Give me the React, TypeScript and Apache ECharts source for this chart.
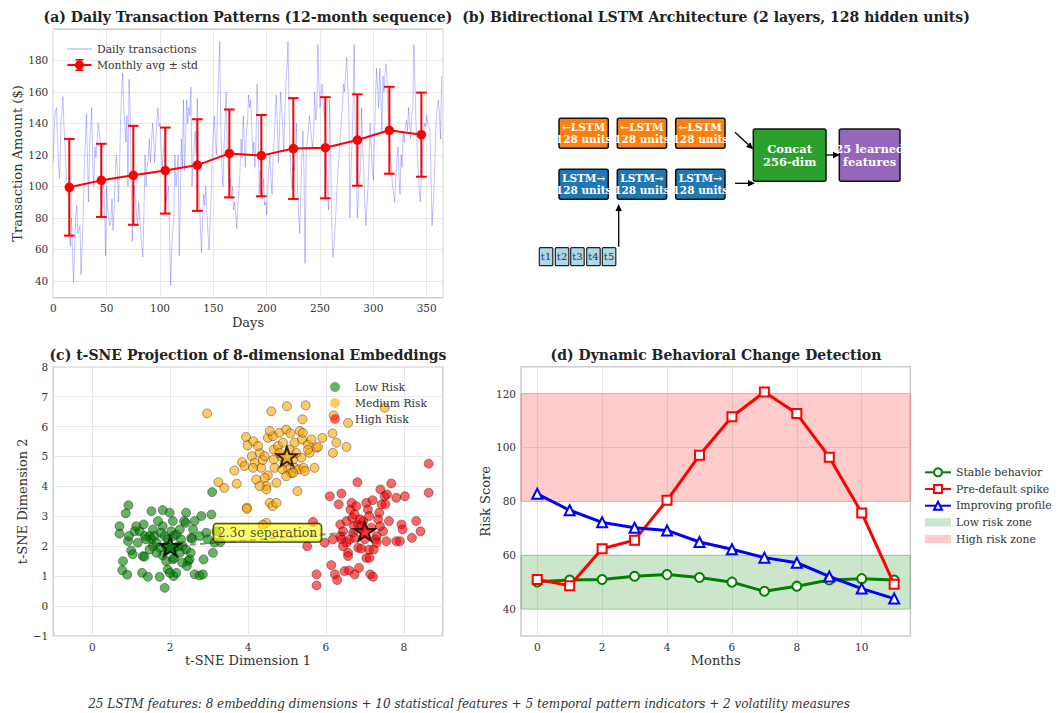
import React, { useEffect, useRef } from "react";
import * as echarts from "echarts";

const FONT = "DejaVu Serif";

// (a) daily transactions (days 0..364)
const dailyValues = [
  116, 140, 148, 150, 130, 112, 105, 140, 145, 157,
  138, 125, 110, 100, 92, 75, 62, 80, 58, 39,
  62, 80, 88, 70, 72, 75, 44, 62, 80, 110,
  128, 146, 118, 90, 125, 138, 150, 112, 100, 125,
  118, 127, 140, 135, 128, 80, 95, 105, 88, 56,
  100, 86, 80, 75, 78, 92, 72, 85, 105, 120,
  112, 90, 108, 140, 160, 172, 150, 140, 128, 145,
  100, 168, 150, 110, 65, 88, 100, 92, 82, 75,
  90, 80, 70, 62, 55, 85, 120, 100, 112, 118,
  130, 115, 126, 140, 132, 115, 128, 140, 150, 138,
  140, 128, 110, 120, 130, 137, 90, 95, 100, 70,
  37, 60, 72, 80, 120, 100, 108, 120, 56, 90,
  130, 112, 155, 110, 128, 155, 140, 150, 145, 163,
  100, 118, 125, 135, 120, 156, 120, 90, 72, 58,
  80, 95, 88, 100, 82, 70, 60, 78, 95, 120,
  135, 145, 128, 120, 150, 172, 192, 140, 112, 100,
  125, 140, 160, 128, 110, 98, 105, 92, 100, 85,
  90, 82, 73, 88, 95, 110, 130, 118, 145, 128,
  112, 135, 140, 158, 150, 155, 140, 120, 128, 112,
  130, 165, 140, 95, 110, 100, 92, 105, 88, 90,
  82, 98, 110, 120, 105, 95, 118, 130, 145, 158,
  140, 115, 135, 160, 150, 138, 122, 145, 165, 175,
  192, 150, 120, 105, 98, 115, 110, 125, 140, 96,
  82, 70, 95, 118, 135, 110, 51, 120, 128, 135,
  145, 138, 130, 125, 133, 160, 142, 150, 190, 165,
  150, 158, 165, 152, 145, 140, 115, 98, 85, 155,
  118, 75, 55, 62, 73, 85, 100, 112, 120, 130,
  142, 150, 165, 160, 172, 182, 165, 150, 80, 110,
  128, 150, 190, 140, 115, 80, 95, 105, 110, 150,
  125, 110, 90, 75, 88, 100, 118, 140, 125, 112,
  104, 130, 155, 175, 162, 150, 175, 158, 135, 170,
  160, 172, 178, 165, 140, 128, 118, 110, 100, 95,
  90, 105, 115, 125, 108, 95, 120, 112, 135, 128,
  138, 142, 135, 150, 140, 130, 145, 150, 190, 165,
  140, 125, 110, 98, 90, 105, 118, 130, 140, 138,
  145, 140, 138, 135, 110, 75, 88, 100, 125, 145,
  150, 155, 145, 130, 170,
];
const monthDays = [15, 45, 75, 105, 135, 165, 195, 225, 255, 285, 315, 345];
const monthMeans = [99.4, 103.8, 107.0, 110.0, 113.5, 120.9, 119.5, 124.0, 124.5, 129.4, 135.6, 132.8];
const monthStds = [30.7, 23.2, 31.4, 27.3, 29.1, 27.9, 25.8, 32.0, 32.1, 29.0, 27.6, 26.7];
const aYTicks = [40, 60, 80, 100, 120, 140, 160, 180];

// (c) t-SNE points
const lowRiskPts = [
  [0.70, 2.67], [0.70, 2.42], [0.93, 3.37], [0.86, 3.10], [0.92, 2.17], [0.94, 2.34], [1.00, 1.86], [1.04, 1.73],
  [0.79, 1.50], [0.77, 1.20], [0.90, 1.05], [1.09, 2.50], [1.22, 2.50], [1.32, 2.73], [1.35, 2.34], [1.30, 1.67],
  [1.34, 1.65], [1.28, 1.11], [1.43, 0.98], [1.47, 2.34], [1.52, 3.17], [1.56, 2.56], [1.52, 2.23], [1.56, 2.00],
  [1.60, 2.34], [1.73, 0.98], [1.81, 3.21], [1.81, 2.67], [1.77, 2.45], [1.86, 2.34], [1.73, 1.95], [1.81, 1.69],
  [1.90, 1.50], [1.86, 0.61], [1.94, 1.22], [2.03, 2.50], [2.07, 2.84], [2.09, 2.34], [2.11, 1.95], [2.07, 1.56],
  [2.09, 1.00], [2.16, 2.39], [2.25, 2.56], [2.36, 2.84], [2.40, 2.78], [2.28, 2.23], [2.32, 2.00], [2.41, 1.89],
  [2.46, 1.50], [2.50, 1.56], [2.43, 1.34], [2.53, 1.78], [2.54, 2.28], [2.57, 2.25], [2.63, 2.84], [2.76, 2.34],
  [2.80, 3.01], [2.86, 1.56], [2.63, 1.06], [2.76, 1.02], [2.84, 1.06], [3.06, 3.06], [3.10, 1.78], [3.14, 2.12],
  [3.19, 2.50], [3.29, 2.14], [3.08, 3.81], [2.20, 2.00], [1.94, 1.89], [1.65, 1.78], [2.25, 1.78], [2.31, 1.45],
  [2.16, 1.11], [1.99, 1.11], [1.94, 2.23], [1.69, 2.84], [1.99, 3.12], [2.41, 3.12], [2.59, 2.56], [2.93, 2.45],
  [2.97, 2.23], [1.13, 2.67], [1.38, 2.23], [1.17, 2.12], [1.65, 2.12], [1.47, 1.89], [1.90, 2.00], [2.11, 1.61],
];
const mediumRiskPts = [
  [2.95, 6.44], [3.24, 4.14], [3.39, 3.95], [3.71, 4.09], [3.65, 4.53], [3.85, 4.81], [3.95, 5.65], [3.99, 5.37],
  [3.91, 4.68], [3.97, 3.29], [3.97, 3.25], [4.10, 5.01], [4.14, 5.51], [4.17, 4.79], [4.21, 4.23], [4.30, 5.12],
  [4.34, 4.62], [4.38, 4.88], [4.43, 5.01], [4.47, 4.01], [4.47, 3.90], [4.51, 5.62], [4.51, 4.37], [4.56, 3.45],
  [4.60, 6.51], [4.63, 3.34], [4.64, 5.68], [4.66, 5.23], [4.68, 4.62], [4.73, 3.45], [4.73, 4.12], [4.77, 5.35],
  [4.81, 5.79], [4.84, 5.01], [4.90, 5.46], [4.94, 4.79], [4.98, 5.90], [5.00, 6.68], [5.03, 4.57], [5.07, 5.23],
  [5.09, 5.77], [5.11, 4.45], [5.16, 4.90], [5.20, 5.46], [5.20, 4.62], [5.27, 3.84], [5.31, 4.57], [5.33, 5.85],
  [5.37, 4.96], [5.39, 5.57], [5.40, 6.24], [5.41, 5.79], [5.43, 4.62], [5.46, 4.51], [5.48, 6.71], [5.54, 5.40],
  [5.58, 5.12], [5.63, 5.57], [5.71, 4.62], [5.76, 5.29], [5.80, 5.32], [5.91, 5.62], [6.17, 5.77], [6.18, 5.12],
  [6.20, 6.37], [6.27, 5.46], [6.53, 5.32], [6.57, 6.12], [7.51, 6.63], [4.26, 5.35], [4.13, 4.62], [4.88, 4.57],
  [5.24, 5.12], [4.43, 4.29], [4.66, 4.90], [4.30, 4.01], [4.98, 4.34], [5.16, 4.45], [4.56, 5.85], [4.81, 5.12],
  [5.54, 5.23], [4.47, 2.78], [4.38, 2.72],
];
const highRiskPts = [
  [5.52, 2.00], [5.67, 2.81], [5.76, 1.06], [5.76, 0.69], [5.97, 2.12], [6.10, 3.67], [6.18, 2.23], [6.14, 1.37],
  [6.23, 1.06], [6.29, 0.87], [6.33, 3.40], [6.37, 2.34], [6.40, 3.76], [6.37, 2.73], [6.40, 2.23], [6.44, 2.50],
  [6.48, 1.17], [6.53, 2.84], [6.53, 2.12], [6.57, 1.78], [6.57, 1.67], [6.60, 1.19], [6.63, 3.23], [6.66, 3.45],
  [6.68, 2.95], [6.72, 2.67], [6.74, 1.06], [6.78, 3.34], [6.81, 4.14], [6.83, 2.73], [6.83, 1.95], [6.85, 1.28],
  [6.88, 2.90], [6.91, 1.92], [6.96, 2.84], [7.00, 2.23], [7.04, 3.45], [7.04, 1.61], [7.08, 3.23], [7.11, 3.01],
  [7.11, 1.89], [7.12, 1.61], [7.14, 1.06], [7.17, 2.62], [7.20, 3.54], [7.21, 0.98], [7.23, 1.89], [7.28, 2.23],
  [7.30, 2.34], [7.34, 2.90], [7.37, 3.12], [7.40, 3.90], [7.43, 3.40], [7.47, 2.50], [7.51, 3.67], [7.53, 3.40],
  [7.55, 2.17], [7.57, 3.73], [7.62, 2.84], [7.68, 4.10], [7.81, 3.62], [7.81, 2.17], [7.90, 2.17], [7.94, 2.73],
  [7.97, 2.56], [8.03, 3.67], [8.21, 2.28], [8.32, 2.84], [8.43, 2.50], [8.64, 4.76], [8.64, 3.79], [6.70, 2.45],
  [6.91, 2.67], [6.61, 2.23], [6.74, 2.28], [6.44, 2.00], [7.39, 2.67], [7.30, 2.12], [6.74, 3.06],
];
const centroids = [[2, 2], [5, 5], [7, 2.5]];
const separationLabel = "2.3σ separation";
const cXTicks = [0, 2, 4, 6, 8];

// (d) risk trajectories
const months = [0, 1, 2, 3, 4, 5, 6, 7, 8, 9, 10, 11];
const stableScores = [50.1, 50.8, 51.0, 52.2, 52.8, 51.7, 50.0, 46.6, 48.5, 50.8, 51.3, 50.8];
const spikeScores = [51.0, 48.7, 62.4, 65.6, 80.4, 97.1, 111.4, 120.6, 112.6, 96.4, 75.7, 49.2];
const improvingScores = [82.8, 76.7, 72.2, 70.2, 69.2, 64.9, 62.2, 59.1, 57.2, 52.1, 47.6, 43.9];
const lowZone = [40, 60];
const highZone = [80, 120];
const dXTicks = [0, 2, 4, 6, 8, 10];
const dYTicks = [40, 60, 80, 100, 120];

const footerText =
  "25 LSTM features: 8 embedding dimensions + 10 statistical features + 5 temporal pattern indicators + 2 volatility measures";

const STAR =
  "path://M0,-10 L2.35,-3.24 L9.51,-3.09 L3.8,1.24 L5.88,8.09 L0,4 L-5.88,8.09 L-3.8,1.24 L-9.51,-3.09 L-2.35,-3.24 Z";
const LINE_ICON = "path://M0,0 L24,0 L24,1 L0,1 Z";
const ERR_ICON =
  "path://M0,5 L24,5 L24,7 L0,7 Z M11,0 L13,0 L13,12 L11,12 Z M8,0 L16,0 L16,1.5 L8,1.5 Z M8,10.5 L16,10.5 L16,12 L8,12 Z M12,1.5 A4.5,4.5 0 1 1 11.99,1.5 Z";
const PATCH_ICON = "path://M0,0 L25,0 L25,8 L0,8 Z";

const textColor = "#333333";
const gridLineColor = "#e8e8e8";
const frameColor = "#cccccc";
const LEGEND_FONT = 10.8;

function axisBase(extra: any) {
  return {
    type: "value",
    nameLocation: "middle",
    nameTextStyle: { color: textColor, fontFamily: FONT, fontSize: 13 },
    axisLine: { show: false },
    axisTick: { show: false },
    axisLabel: { color: textColor, fontFamily: FONT, fontSize: 10.5, margin: 5 },
    splitLine: { show: true, lineStyle: { color: gridLineColor, width: 1 } },
    ...extra,
  };
}

function txt(text: string, x: number, y: number, font: string, fill = "#222", extra: any = {}) {
  return {
    type: "text",
    x,
    y,
    silent: true,
    style: {
      text,
      font,
      fill,
      textAlign: "center",
      align: "center",
      textVerticalAlign: "middle",
      verticalAlign: "middle",
      ...extra,
    },
    z: 100,
  };
}

function arrow(x1: number, y1: number, x2: number, y2: number) {
  const dx = x2 - x1;
  const dy = y2 - y1;
  const len = Math.sqrt(dx * dx + dy * dy);
  const ux = dx / len;
  const uy = dy / len;
  const hl = 7;
  const hw = 3.2;
  const bx = x2 - ux * hl;
  const by = y2 - uy * hl;
  return [
    { type: "line", shape: { x1, y1, x2: bx, y2: by }, style: { stroke: "#000", lineWidth: 1.3 }, z: 100 },
    {
      type: "polygon",
      shape: { points: [[x2, y2], [bx - uy * hw, by + ux * hw], [bx + uy * hw, by - ux * hw]] },
      style: { fill: "#000" },
      z: 100,
    },
  ];
}

function lstmBox(x: number, y: number, w: number, h: number, fill: string, label: string, fontSize = 10.5, lh = 11.7) {
  return [
    {
      type: "rect",
      shape: { x, y, width: w, height: h, r: 2 },
      style: { fill, stroke: "#111", lineWidth: 1.5 },
      z: 90,
    },
    txt(label, x + w / 2, y + h / 2, `bold ${fontSize}px "${FONT}"`, "#ffffff", { lineHeight: lh }),
  ];
}

export default function App() {
  const ref = useRef<HTMLDivElement>(null);

  useEffect(() => {
    document.body.style.margin = "0";
    if (!ref.current) return;
    const chart = echarts.init(ref.current, undefined, { renderer: "svg" });

    const bGraphics: any[] = [];
    const colX = [559, 617.3, 675.7];
    colX.forEach((x) => {
      bGraphics.push(...lstmBox(x, 118.3, 49.3, 30, "#ff7f0e", "←LSTM\n128 units"));
      bGraphics.push(...lstmBox(x, 169.3, 49.3, 30, "#1f77b4", "LSTM→\n128 units"));
    });
    bGraphics.push(...lstmBox(753.3, 129, 72.7, 52.3, "#2ca02c", "Concat\n256-dim", 11.5, 12.7));
    bGraphics.push(...lstmBox(839.3, 129, 60.7, 52.3, "#9467bd", "25 learned\nfeatures", 11.5, 12.7));
    const tX = [539.3, 555.3, 570.7, 586.7, 602.3];
    tX.forEach((x, i) => {
      bGraphics.push({
        type: "rect",
        shape: { x, y: 247.7, width: 13.5, height: 18, r: 1 },
        style: { fill: "#add8e6", stroke: "#222", lineWidth: 1.2 },
        z: 90,
      });
      bGraphics.push(txt("t" + (i + 1), x + 6.75, 256.7, `10px "${FONT}"`, "#333"));
    });
    bGraphics.push(...arrow(735, 132.3, 753.3, 149.3));
    bGraphics.push(...arrow(735, 183.3, 755, 183.3));
    bGraphics.push(...arrow(826, 155, 840, 155));
    bGraphics.push(...arrow(618.7, 246.7, 618.7, 204));

    const titleFont = `bold 14px "${FONT}"`;
    const graphics = [
      txt("(a) Daily Transaction Patterns (12-month sequence)", 248, 17, titleFont),
      txt("(b) Bidirectional LSTM Architecture (2 layers, 128 hidden units)", 716, 17, titleFont),
      txt("(c) t-SNE Projection of 8-dimensional Embeddings", 248, 355, titleFont),
      txt("(d) Dynamic Behavioral Change Detection", 716, 355, titleFont),
      txt(footerText, 469, 704, `italic 12px "${FONT}"`, "#333"),
      ...bGraphics,
    ];

    const scatterStyle = (color: string) => ({
      color,
      opacity: 0.6,
      borderColor: "#000",
      borderWidth: 0.6,
    });
    const legendText = { fontFamily: FONT, fontSize: LEGEND_FONT, color: textColor, lineHeight: 12 };
    const gridBox = { show: true, borderColor: frameColor, borderWidth: 1.5, backgroundColor: "transparent" };

    const option: any = {
      animation: false,
      backgroundColor: "#ffffff",
      textStyle: { fontFamily: FONT },
      grid: [
        { left: 53.3, top: 29.3, width: 389.4, height: 268.4, ...gridBox },
        { left: 53.3, top: 366.7, width: 389.4, height: 269.3, ...gridBox },
        { left: 521, top: 366.7, width: 389.4, height: 269.3, ...gridBox },
      ],
      xAxis: [
        axisBase({ gridIndex: 0, min: 0, max: 365, interval: 50, name: "Days", nameGap: 18 }),
        axisBase({
          gridIndex: 1, min: -1, max: 9, name: "t-SNE Dimension 1", nameGap: 18,
          axisTick: { show: false, customValues: cXTicks },
          axisLabel: { color: textColor, fontFamily: FONT, fontSize: 10.5, margin: 5, customValues: cXTicks },
        }),
        axisBase({
          gridIndex: 2, min: -0.5, max: 11.5, name: "Months", nameGap: 18,
          axisTick: { show: false, customValues: dXTicks },
          axisLabel: { color: textColor, fontFamily: FONT, fontSize: 10.5, margin: 5, customValues: dXTicks },
        }),
      ],
      yAxis: [
        axisBase({
          gridIndex: 0, min: 29.3, max: 199.7, name: "Transaction Amount ($)", nameGap: 28,
          axisTick: { show: false, customValues: aYTicks },
          axisLabel: { color: textColor, fontFamily: FONT, fontSize: 10.5, margin: 5, customValues: aYTicks },
        }),
        axisBase({
          gridIndex: 1, min: -1, max: 8, interval: 1, name: "t-SNE Dimension 2", nameGap: 24,
          axisLabel: {
            color: textColor, fontFamily: FONT, fontSize: 10.5, margin: 5,
            formatter: (v: number) => (v < 0 ? "\u2212" + Math.abs(v) : String(v)),
          },
        }),
        axisBase({
          gridIndex: 2, min: 30, max: 130, name: "Risk Score", nameGap: 29,
          axisTick: { show: false, customValues: dYTicks },
          axisLabel: { color: textColor, fontFamily: FONT, fontSize: 10.5, margin: 5, customValues: dYTicks },
        }),
      ],
      legend: [
        {
          left: 62, top: 38, orient: "vertical", itemWidth: 25, itemHeight: 12, itemGap: 4,
          symbolKeepAspect: true,
          textStyle: legendText,
          data: [
            { name: "Daily transactions", icon: LINE_ICON, itemStyle: { color: "rgba(0,0,255,0.35)" } },
            { name: "Monthly avg ± std", icon: ERR_ICON, itemStyle: { color: "#ff0000" } },
          ],
        },
        {
          left: 325, top: 376, orient: "vertical", itemWidth: 30, itemHeight: 10, itemGap: 4,
          textStyle: legendText,
          data: [
            { name: "Low Risk", icon: "circle", itemStyle: { borderWidth: 0 } },
            { name: "Medium Risk", icon: "circle", itemStyle: { borderWidth: 0 } },
            { name: "High Risk", icon: "circle", itemStyle: { borderWidth: 0 } },
          ],
        },
        {
          left: 919, top: 461.3, orient: "vertical", itemWidth: 26, itemHeight: 10, itemGap: 4.7,
          symbolKeepAspect: true,
          textStyle: legendText,
          data: [
            "Stable behavior",
            "Pre-default spike",
            "Improving profile",
            { name: "Low risk zone", icon: PATCH_ICON, itemStyle: { color: "rgba(0,128,0,0.2)", borderWidth: 0 } },
            { name: "High risk zone", icon: PATCH_ICON, itemStyle: { color: "rgba(255,0,0,0.2)", borderWidth: 0 } },
          ],
        },
      ],
      graphic: graphics,
      series: [
        // (a)
        {
          name: "Daily transactions", type: "line", xAxisIndex: 0, yAxisIndex: 0,
          data: dailyValues.map((v, i) => [i, v]), symbol: "none",
          lineStyle: { color: "rgba(0,0,255,0.3)", width: 0.8 },
          itemStyle: { color: "rgba(0,0,255,0.3)" }, z: 2,
        },
        {
          name: "errbars", type: "custom", xAxisIndex: 0, yAxisIndex: 0,
          data: monthDays.map((d, i) => [d, monthMeans[i] - monthStds[i], monthMeans[i] + monthStds[i]]),
          encode: { x: 0, y: [1, 2] },
          renderItem: (params: any, api: any) => {
            const x = api.value(0);
            const p1 = api.coord([x, api.value(1)]);
            const p2 = api.coord([x, api.value(2)]);
            const cap = 5.3;
            const st = { stroke: "#ff0000", lineWidth: 2 };
            return {
              type: "group",
              children: [
                { type: "line", shape: { x1: p1[0], y1: p1[1], x2: p2[0], y2: p2[1] }, style: st },
                { type: "line", shape: { x1: p1[0] - cap, y1: p1[1], x2: p1[0] + cap, y2: p1[1] }, style: st },
                { type: "line", shape: { x1: p2[0] - cap, y1: p2[1], x2: p2[0] + cap, y2: p2[1] }, style: st },
              ],
            };
          },
          z: 3,
        },
        {
          name: "Monthly avg ± std", type: "line", xAxisIndex: 0, yAxisIndex: 0,
          data: monthDays.map((d, i) => [d, monthMeans[i]]),
          symbol: "circle", symbolSize: 9.5,
          lineStyle: { color: "#ff0000", width: 2 },
          itemStyle: { color: "#ff0000" }, z: 4,
        },
        // (c)
        {
          name: "Low Risk", type: "scatter", xAxisIndex: 1, yAxisIndex: 1,
          data: lowRiskPts, symbolSize: 9, itemStyle: scatterStyle("#008000"), z: 2,
        },
        {
          name: "Medium Risk", type: "scatter", xAxisIndex: 1, yAxisIndex: 1,
          data: mediumRiskPts, symbolSize: 9, itemStyle: scatterStyle("#ffa500"), z: 2,
        },
        {
          name: "High Risk", type: "scatter", xAxisIndex: 1, yAxisIndex: 1,
          data: highRiskPts, symbolSize: 9, itemStyle: scatterStyle("#ff0000"), z: 2,
        },
        {
          name: "sepline", type: "line", xAxisIndex: 1, yAxisIndex: 1,
          data: [centroids[0], centroids[2]], symbol: "none",
          lineStyle: { color: "#444", width: 2, type: [6, 4], opacity: 0.6 }, z: 3,
        },
        {
          name: "seplabel", type: "scatter", xAxisIndex: 1, yAxisIndex: 1,
          data: [[4.5, 2.45]], symbolSize: 0,
          label: {
            show: true, position: "inside", formatter: separationLabel,
            fontFamily: FONT, fontSize: 12.5, color: "#222",
            backgroundColor: "rgba(255,255,0,0.72)", borderColor: "#000", borderWidth: 1,
            borderRadius: 3, padding: [3, 4, 2, 4],
          },
          z: 5,
        },
        ...centroids.map((c, i) => ({
          name: "centroid" + i, type: "scatter", xAxisIndex: 1, yAxisIndex: 1,
          data: [c], symbol: STAR, symbolSize: 20, symbolKeepAspect: true,
          itemStyle: { color: ["#008000", "#ffa500", "#ff0000"][i], borderColor: "#000", borderWidth: 2 },
          z: 6,
        })),
        // (d)
        {
          name: "Low risk zone", type: "line", xAxisIndex: 2, yAxisIndex: 2, data: [],
          itemStyle: { color: "rgba(0,128,0,0.2)" },
          markArea: {
            silent: true,
            itemStyle: { color: "rgba(0,128,0,0.2)", borderColor: "rgba(0,128,0,0.25)", borderWidth: 1 },
            data: [[{ yAxis: lowZone[0] }, { yAxis: lowZone[1] }]],
          },
          z: 1,
        },
        {
          name: "High risk zone", type: "line", xAxisIndex: 2, yAxisIndex: 2, data: [],
          itemStyle: { color: "rgba(255,0,0,0.2)" },
          markArea: {
            silent: true,
            itemStyle: { color: "rgba(255,0,0,0.2)", borderColor: "rgba(255,0,0,0.25)", borderWidth: 1 },
            data: [[{ yAxis: highZone[0] }, { yAxis: highZone[1] }]],
          },
          z: 1,
        },
        {
          name: "Stable behavior", type: "line", xAxisIndex: 2, yAxisIndex: 2,
          data: months.map((m, i) => [m, stableScores[i]]),
          symbol: "circle", symbolSize: 9,
          lineStyle: { color: "#008000", width: 3 },
          itemStyle: { color: "#ffffff", borderColor: "#008000", borderWidth: 2 }, z: 3,
        },
        {
          name: "Pre-default spike", type: "line", xAxisIndex: 2, yAxisIndex: 2,
          data: months.map((m, i) => [m, spikeScores[i]]),
          symbol: "rect", symbolSize: 9,
          lineStyle: { color: "#ff0000", width: 3 },
          itemStyle: { color: "#ffffff", borderColor: "#ff0000", borderWidth: 2 }, z: 4,
        },
        {
          name: "Improving profile", type: "line", xAxisIndex: 2, yAxisIndex: 2,
          data: months.map((m, i) => [m, improvingScores[i]]),
          symbol: "triangle", symbolSize: 10,
          lineStyle: { color: "#0000ff", width: 3 },
          itemStyle: { color: "#ffffff", borderColor: "#0000ff", borderWidth: 2 }, z: 5,
        },
      ],
    };

    chart.setOption(option);
    return () => chart.dispose();
  }, []);

  return <div ref={ref} style={{ width: 1061, height: 713 }} />;
}
